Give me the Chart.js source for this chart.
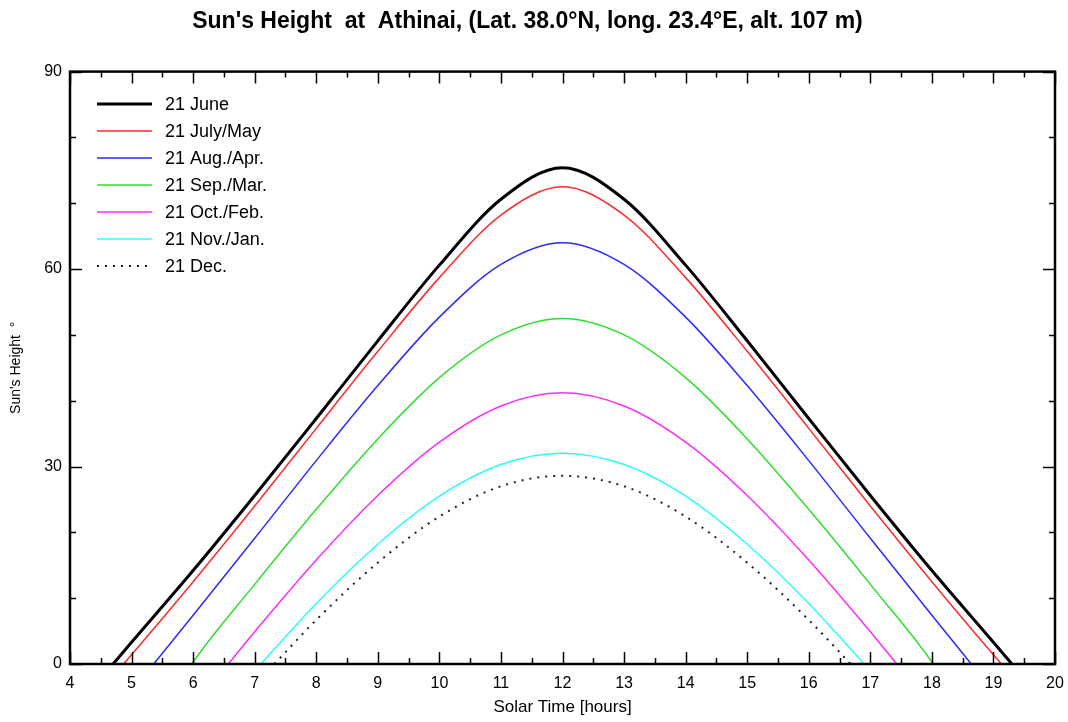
<!DOCTYPE html>
<html>
<head>
<meta charset="utf-8">
<title>Sun's Height at Athinai</title>
<script src="https://cdn.jsdelivr.net/npm/chart.js@4.4.1/dist/chart.umd.min.js"></script>
<style>
    html, body { margin: 0; padding: 0; background: #ffffff; }
    #wrap { width: 1068px; height: 722px; }
</style>
</head>
<body>
<div id="wrap"><canvas id="sunChart" width="1068" height="722"></canvas></div>
<script>
// Solar time [hours] of the hourly readings
const hours = [5, 6, 7, 8, 9, 10, 11, 12, 13, 14, 15, 16, 17, 18, 19];

// Series labels, sunrise/sunset (height 0) and hourly heights in degrees
const seriesLabels = ['21 June', '21 July/May', '21 Aug./Apr.', '21 Sep./Mar.', '21 Oct./Feb.', '21 Nov./Jan.', '21 Dec.'];
const riseTimes = [4.70, 4.87, 5.36, 5.98, 6.57, 7.10, 7.32];
const setTimes  = [19.30, 19.13, 18.64, 18.02, 17.43, 16.90, 16.68];

const juneHeights = [3.3, 14.2, 25.6, 37.3, 49.1, 60.6, 70.6, 75.4, 70.6, 60.6, 49.1, 37.3, 25.6, 14.2, 3.3];
const julyHeights = [1.4, 12.5, 24.0, 35.8, 47.5, 58.7, 68.2, 72.5, 68.2, 58.7, 47.5, 35.8, 24.0, 12.5, 1.4];
const augHeights  = [null, 7.4, 19.1, 30.9, 42.3, 52.7, 60.7, 64.0, 60.7, 52.7, 42.3, 30.9, 19.1, 7.4, null];
const sepHeights  = [null, 0.3, 12.1, 23.5, 34.2, 43.5, 50.0, 52.5, 50.0, 43.5, 34.2, 23.5, 12.1, 0.3, null];
const octHeights  = [null, null, 4.9, 15.8, 25.6, 33.7, 39.2, 41.2, 39.2, 33.7, 25.6, 15.8, 4.9, null, null];
const novHeights  = [null, null, null, 9.2, 18.2, 25.5, 30.3, 32.0, 30.3, 25.5, 18.2, 9.2, null, null, null];
const decHeights  = [null, null, null, 6.7, 15.4, 22.4, 27.0, 28.6, 27.0, 22.4, 15.4, 6.7, null, null, null];

const allHeights = [juneHeights, julyHeights, augHeights, sepHeights, octHeights, novHeights, decHeights];
const lineColors = ['#000000', '#ff2a2a', '#2a2aff', '#2ae02a', '#ff2aff', '#2affff', '#222222'];
const lineWidths = [3, 1.5, 1.5, 1.5, 1.5, 1.5, 2];
const lineDashes = [[], [], [], [], [], [], [2, 6]];

const yTicks = [0, 30, 60, 90];

// Build {x, y} points: sunrise, daylight hours, sunset
function buildPoints(i) {
    const pts = [{ x: riseTimes[i], y: 0 }];
    hours.forEach(function(t, k) {
        const h = allHeights[i][k];
        if (h !== null) pts.push({ x: t, y: h });
    });
    pts.push({ x: setTimes[i], y: 0 });
    return pts;
}

const datasets = seriesLabels.map(function(label, i) {
    return {
        label: label,
        data: buildPoints(i),
        borderColor: lineColors[i],
        borderWidth: lineWidths[i],
        borderDash: lineDashes[i],
        pointRadius: 0,
        fill: false,
        cubicInterpolationMode: 'monotone'
    };
});

// Frame with inward ticks on all four sides
const framePlugin = {
    id: 'frame',
    afterDraw: function(chart) {
        const ctx = chart.ctx;
        const a = chart.chartArea;
        const xs = chart.scales.x;
        const ys = chart.scales.y;
        ctx.save();
        ctx.strokeStyle = '#000000';
        ctx.lineWidth = 1.5;
        ctx.beginPath();
        for (let v = 4; v <= 20; v += 0.5) {
            const px = Math.round(xs.getPixelForValue(v)) + 0.5;
            const len = (v % 1 === 0) ? 12 : 6;
            ctx.moveTo(px, a.bottom); ctx.lineTo(px, a.bottom - len);
            ctx.moveTo(px, a.top); ctx.lineTo(px, a.top + len);
        }
        for (let v = 0; v <= 90; v += 10) {
            const py = Math.round(ys.getPixelForValue(v)) + 0.5;
            const len = (v % 30 === 0) ? 12 : 6;
            ctx.moveTo(a.left, py); ctx.lineTo(a.left + len, py);
            ctx.moveTo(a.right, py); ctx.lineTo(a.right - len, py);
        }
        ctx.stroke();
        ctx.lineWidth = 2.5;
        ctx.strokeRect(a.left, a.top, a.right - a.left, a.bottom - a.top);
        ctx.restore();
    }
};

// Legend drawn inside the plot, top left
const insideLegend = {
    id: 'insideLegend',
    afterDatasetsDraw: function(chart) {
        const ctx = chart.ctx;
        ctx.save();
        ctx.font = '18px "Liberation Sans", Arial, sans-serif';
        ctx.textBaseline = 'middle';
        ctx.fillStyle = '#000000';
        chart.data.datasets.forEach(function(ds, i) {
            const y = 104 + i * 27;
            ctx.beginPath();
            ctx.strokeStyle = ds.borderColor;
            ctx.lineWidth = ds.borderWidth;
            ctx.setLineDash(ds.borderDash);
            ctx.moveTo(97, y);
            ctx.lineTo(152, y);
            ctx.stroke();
            ctx.setLineDash([]);
            ctx.fillText(ds.label, 165, y + 1);
        });
        ctx.restore();
    }
};

new Chart(document.getElementById('sunChart'), {
    type: 'line',
    data: { datasets: datasets },
    options: {
        responsive: false,
        animation: false,
        layout: { padding: { left: 0, right: 13, top: 0, bottom: 0 } },
        plugins: {
            legend: { display: false },
            tooltip: { enabled: false },
            title: {
                display: true,
                text: "Sun's Height  at  Athinai, (Lat. 38.0°N, long. 23.4°E, alt. 107 m)",
                color: '#000000',
                font: { family: '"Liberation Sans Narrow", "Liberation Sans", Arial, sans-serif', size: 23, weight: 'bold' },
                padding: { top: 8, bottom: 36 }
            }
        },
        scales: {
            x: {
                type: 'linear',
                min: 4,
                max: 20,
                grid: { display: false, drawTicks: false },
                border: { display: false },
                ticks: {
                    stepSize: 1,
                    padding: 10,
                    color: '#000000',
                    font: { family: '"Liberation Sans", Arial, sans-serif', size: 16 }
                },
                title: {
                    display: true,
                    text: 'Solar Time [hours]',
                    color: '#000000',
                    font: { family: '"Liberation Sans", Arial, sans-serif', size: 17 },
                    padding: { top: 0, bottom: 4 }
                },
                afterFit: function(scale) {
                    scale.height = 58;
                    scale.paddingLeft = 0;
                    scale.paddingRight = 0;
                }
            },
            y: {
                type: 'linear',
                min: 0,
                max: 90,
                afterBuildTicks: function(scale) {
                    scale.ticks = yTicks.map(function(v) { return { value: v }; });
                },
                grid: { display: false, drawTicks: false },
                border: { display: false },
                ticks: {
                    padding: 8,
                    color: '#000000',
                    font: { family: '"Liberation Sans", Arial, sans-serif', size: 16 }
                },
                title: {
                    display: true,
                    text: "Sun's Height  °",
                    color: '#000000',
                    font: { family: '"Liberation Sans", Arial, sans-serif', size: 14 },
                    padding: { top: 8, bottom: 0 }
                },
                afterFit: function(scale) {
                    scale.width = 70;
                    scale.paddingTop = 0;
                    scale.paddingBottom = 0;
                }
            }
        }
    },
    plugins: [framePlugin, insideLegend]
});
</script>
</body>
</html>
